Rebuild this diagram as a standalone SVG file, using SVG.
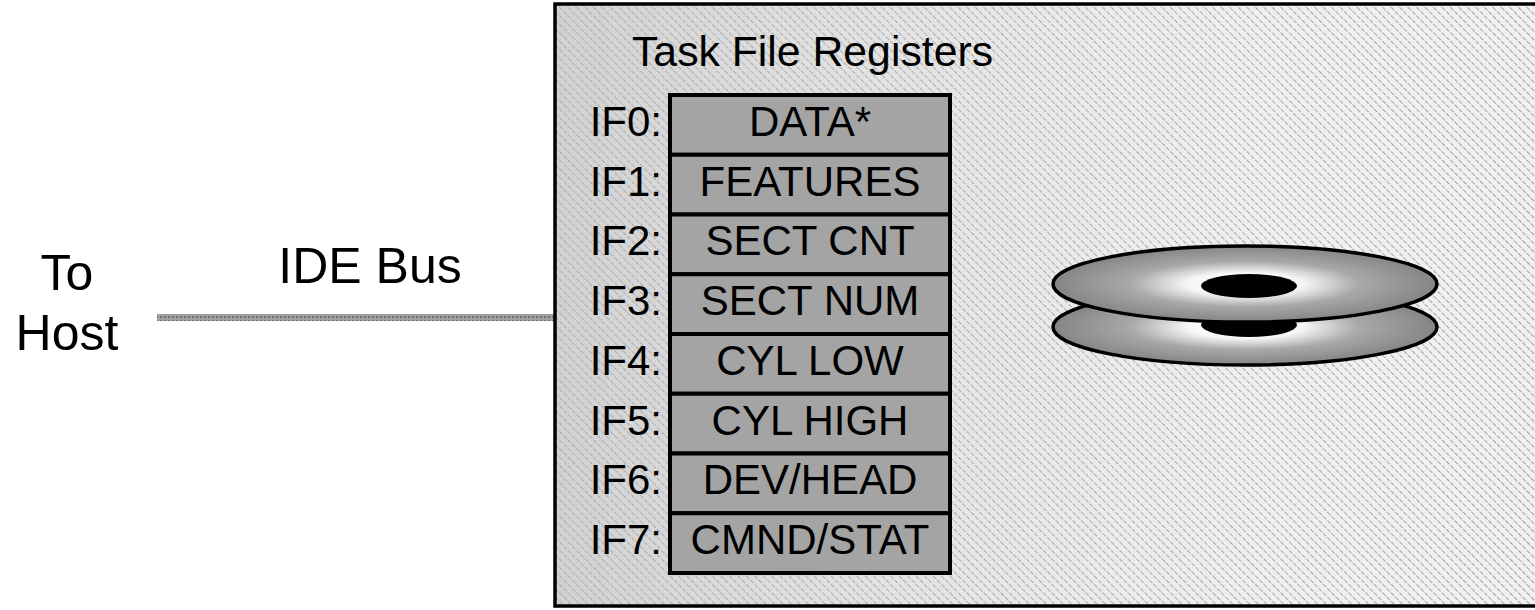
<svg xmlns="http://www.w3.org/2000/svg" width="1535" height="610" viewBox="0 0 1535 610">
  <style>
    .t { font-family: "Liberation Sans", Arial, sans-serif; fill: #000; }
    .big { font-size: 50px; }
    .lbl { font-size: 42px; }
    .ifn { font-size: 42px; text-anchor: end; }
    .val { font-size: 42px; text-anchor: middle; }
    .reg { fill: #a4a4a4; stroke: #000; stroke-width: 4; }
  </style>
  <defs>
    <!-- fine diagonal hatch used for the drive enclosure -->
    <pattern id="hatch" width="6" height="6" patternUnits="userSpaceOnUse" patternTransform="rotate(-45)">
      <rect width="6" height="6" fill="#f0f0f0"/>
      <line x1="0" y1="0" x2="0" y2="6" stroke="#8a8a8a" stroke-width="1.6" stroke-dasharray="3 1.5"/>
    </pattern>
    <linearGradient id="encShade" x1="0" y1="0" x2="1" y2="0">
      <stop offset="0" stop-color="#b8b8b8" stop-opacity="0.55"/>
      <stop offset="0.45" stop-color="#cccccc" stop-opacity="0.25"/>
      <stop offset="1" stop-color="#ffffff" stop-opacity="0"/>
    </linearGradient>
    <radialGradient id="platter" cx="0.5" cy="0.5" r="0.5">
      <stop offset="0" stop-color="#ffffff"/>
      <stop offset="0.3" stop-color="#f6f6f6"/>
      <stop offset="0.6" stop-color="#a8a8a8"/>
      <stop offset="1" stop-color="#858585"/>
    </radialGradient>
    <pattern id="busTex" width="4" height="4" patternUnits="userSpaceOnUse">
      <rect width="4" height="4" fill="#a0a0a0"/>
      <rect width="2" height="2" fill="#747474"/>
    </pattern>
  </defs>

  <rect width="1535" height="610" fill="#ffffff"/>

  <!-- host side labels -->
  <g id="host">
    <text class="t big" x="67" y="290" text-anchor="middle">To</text>
    <text class="t big" x="67" y="350" text-anchor="middle">Host</text>
  </g>

  <!-- bus connector -->
  <g id="connectors">
    <rect x="157" y="314" width="398" height="7" fill="url(#busTex)"/>
    <text class="t big" x="370" y="283" text-anchor="middle">IDE Bus</text>
  </g>

  <!-- drive enclosure -->
  <g id="drive">
    <rect x="555" y="4" width="990" height="602" fill="url(#hatch)"/>
    <rect x="555" y="4" width="990" height="602" fill="url(#encShade)"/>
    <rect x="555" y="4" width="990" height="602" fill="none" stroke="#000" stroke-width="3.5"/>
    <text class="t lbl" x="632" y="66" textLength="361" lengthAdjust="spacingAndGlyphs">Task File Registers</text>
  </g>

  <!-- task file registers -->
  <g id="registers">
    <g id="if0"><rect class="reg" x="670" y="95" width="280" height="59.75"/><text class="t ifn" x="662" y="136">IF0:</text><text class="t val" x="810" y="136">DATA*</text></g>
    <g id="if1"><rect class="reg" x="670" y="154.75" width="280" height="59.75"/><text class="t ifn" x="662" y="196">IF1:</text><text class="t val" x="810" y="196">FEATURES</text></g>
    <g id="if2"><rect class="reg" x="670" y="214.5" width="280" height="59.75"/><text class="t ifn" x="662" y="255">IF2:</text><text class="t val" x="810" y="255">SECT CNT</text></g>
    <g id="if3"><rect class="reg" x="670" y="274.25" width="280" height="59.75"/><text class="t ifn" x="662" y="315">IF3:</text><text class="t val" x="810" y="315">SECT NUM</text></g>
    <g id="if4"><rect class="reg" x="670" y="334" width="280" height="59.75"/><text class="t ifn" x="662" y="375">IF4:</text><text class="t val" x="810" y="375">CYL LOW</text></g>
    <g id="if5"><rect class="reg" x="670" y="393.75" width="280" height="59.75"/><text class="t ifn" x="662" y="435">IF5:</text><text class="t val" x="810" y="435">CYL HIGH</text></g>
    <g id="if6"><rect class="reg" x="670" y="453.5" width="280" height="59.75"/><text class="t ifn" x="662" y="494">IF6:</text><text class="t val" x="810" y="494">DEV/HEAD</text></g>
    <g id="if7"><rect class="reg" x="670" y="513.25" width="280" height="59.75"/><text class="t ifn" x="662" y="554">IF7:</text><text class="t val" x="810" y="554">CMND/STAT</text></g>
  </g>

  <!-- disk platters -->
  <g id="platters">
    <ellipse cx="1245" cy="327" rx="192" ry="38" fill="url(#platter)" stroke="#000" stroke-width="3.5"/>
    <ellipse cx="1249" cy="325" rx="48" ry="12" fill="#000"/>
    <ellipse cx="1245" cy="284" rx="192" ry="38" fill="url(#platter)" stroke="#000" stroke-width="3.5"/>
    <ellipse cx="1249" cy="286" rx="48" ry="12" fill="#000"/>
  </g>
</svg>
